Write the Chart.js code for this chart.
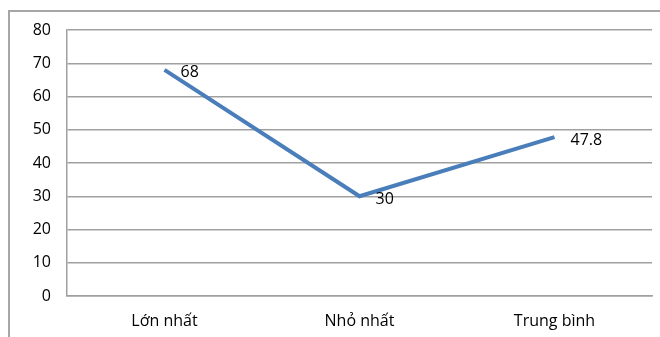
<!DOCTYPE html>
<html>
<head>
<meta charset="utf-8">
<script src="https://cdn.jsdelivr.net/npm/chart.js@4"></script>
<style>
  html, body { margin: 0; padding: 0; background: #fff; }
  #wrap { position: relative; width: 660px; height: 337px; overflow: hidden; }
  #frame {
    position: absolute; left: 8px; top: 10px; width: 700px; height: 400px;
    border-left: 2px solid #a6a6a6; border-top: 2px solid #a6a6a6;
  }
  #chart { position: absolute; left: 0; top: 0; }
</style>
</head>
<body>
<div id="wrap">
  <div id="frame"></div>
  <canvas id="chart" width="660" height="337"></canvas>
</div>
<script>
var categories = ['Lớn nhất', 'Nhỏ nhất', 'Trung bình'];
var values = [68, 30, 47.8];
var valueLabels = ['68', '30', '47.8'];

var fontFamily = "'Open Sans', 'Liberation Sans', sans-serif";

// write the value next to each point, like the spreadsheet labels
var pointLabels = {
    id: 'pointLabels',
    afterDatasetsDraw: function (chart) {
        var ctx = chart.ctx;
        var meta = chart.getDatasetMeta(0);
        ctx.save();
        ctx.font = '16px ' + fontFamily;
        ctx.fillStyle = '#000';
        ctx.textAlign = 'left';
        ctx.textBaseline = 'middle';
        meta.data.forEach(function (pt, i) {
            ctx.fillText(valueLabels[i], pt.x + 16, pt.y + 3);
        });
        ctx.restore();
    }
};

new Chart(document.getElementById('chart').getContext('2d'), {
    type: 'line',
    data: {
        labels: categories,
        datasets: [{
            data: values,
            borderColor: '#4a7ebb',
            borderWidth: 4,
            pointRadius: 0,
            tension: 0,
            fill: false
        }]
    },
    options: {
        responsive: false,
        animation: false,
        layout: { padding: { left: 0, top: 30, right: 8, bottom: 0 } },
        plugins: {
            legend: { display: false },
            tooltip: { enabled: false }
        },
        scales: {
            x: {
                offset: true,
                grid: { display: false, drawTicks: false },
                border: { display: true, color: '#a0a0a0', width: 1.5 },
                ticks: { padding: 16, color: '#000', font: { family: fontFamily, size: 16 } },
                afterFit: function (scale) { scale.height = 41; }
            },
            y: {
                min: 0,
                max: 80,
                ticks: { stepSize: 10, padding: 16, color: '#000', font: { family: fontFamily, size: 16 } },
                grid: { color: '#a0a0a0', lineWidth: 1.5, drawTicks: false },
                border: { display: true, color: '#a0a0a0', width: 1.5 },
                afterFit: function (scale) { scale.width = 67; }
            }
        }
    },
    plugins: [pointLabels]
});
</script>
</body>
</html>
